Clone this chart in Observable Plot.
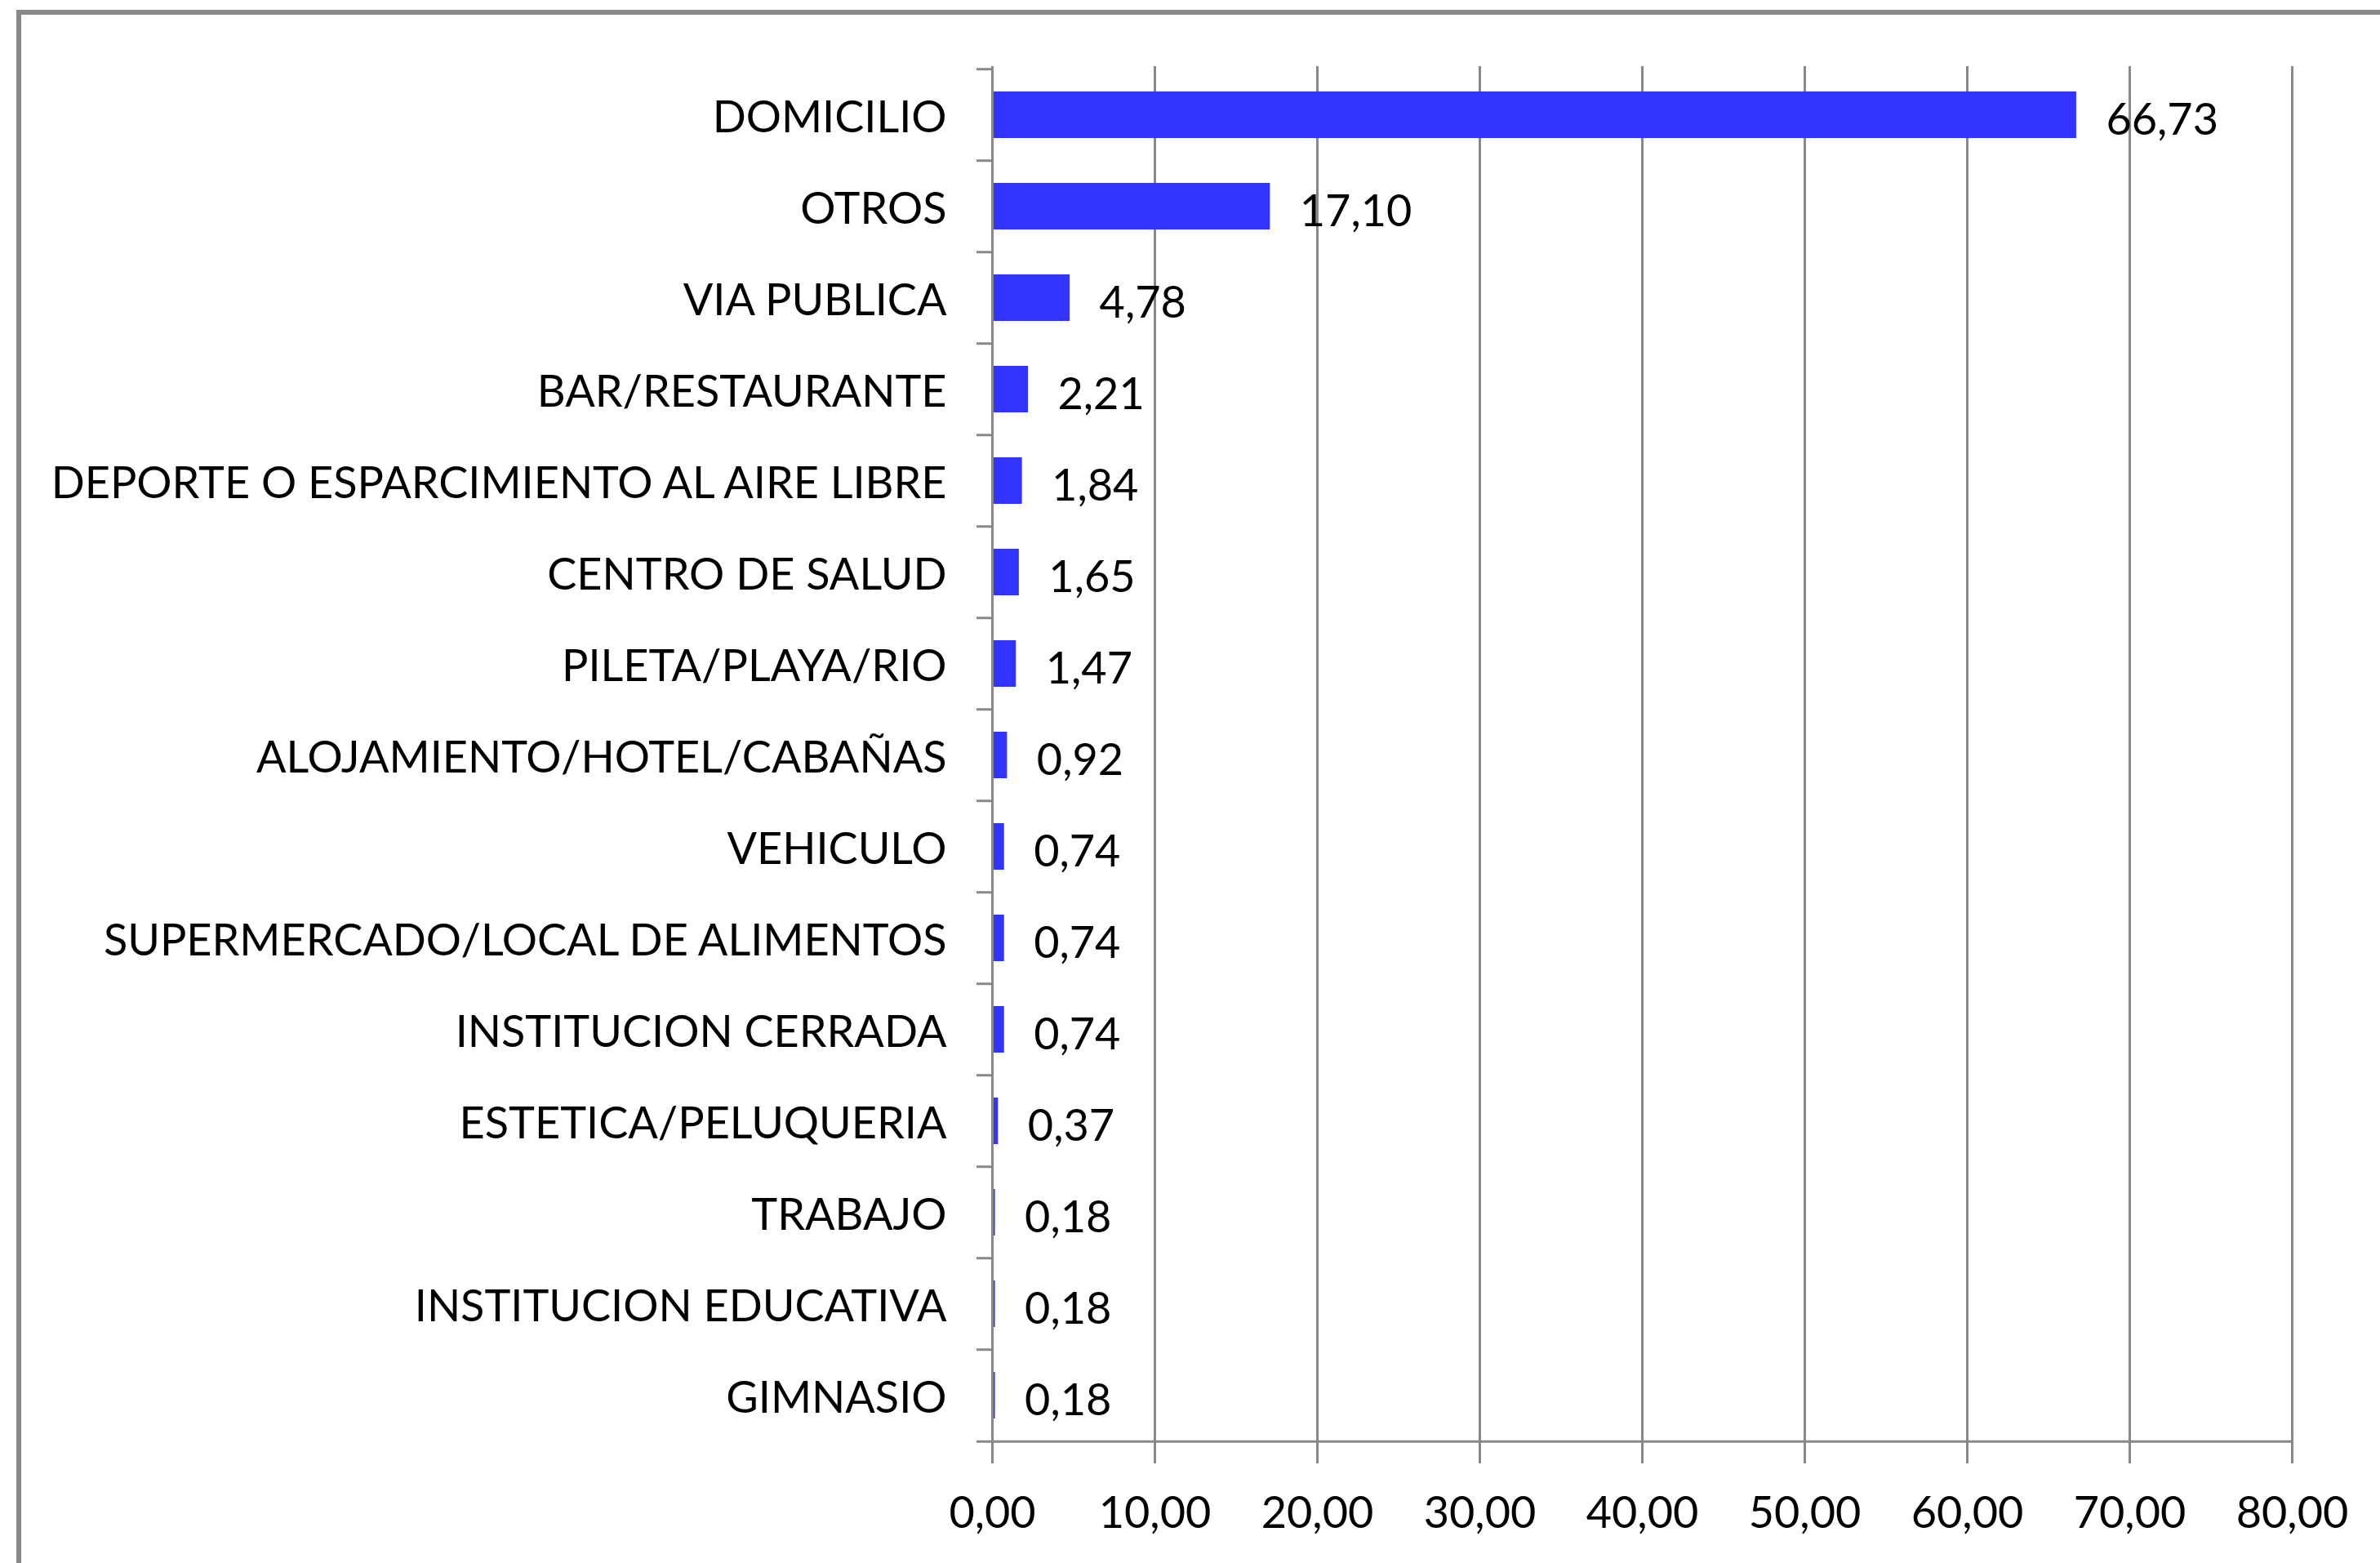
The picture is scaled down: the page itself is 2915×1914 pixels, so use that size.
<!DOCTYPE html>
<html>
<head>
<meta charset="utf-8">
<script src="https://cdn.jsdelivr.net/npm/d3@7"></script>
<script src="https://cdn.jsdelivr.net/npm/@observablehq/plot@0.6"></script>
<style>
html, body { margin: 0; padding: 0; background: #fff; overflow: hidden; }
#wrap { position: relative; width: 2915px; height: 1914px; overflow: hidden; }
#border { position: absolute; left: 20px; top: 12px; width: 2960px; height: 1960px;
  border-top: 6px solid #888; border-left: 6px solid #888; }
#chart { position: absolute; left: 0; top: 0; }
</style>
</head>
<body>
<div id="wrap"><div id="border"></div><div id="chart"></div></div>
<script>
const categories = [
  "DOMICILIO",
  "OTROS",
  "VIA PUBLICA",
  "BAR/RESTAURANTE",
  "DEPORTE O ESPARCIMIENTO AL AIRE LIBRE",
  "CENTRO DE SALUD",
  "PILETA/PLAYA/RIO",
  "ALOJAMIENTO/HOTEL/CABAÑAS",
  "VEHICULO",
  "SUPERMERCADO/LOCAL DE ALIMENTOS",
  "INSTITUCION CERRADA",
  "ESTETICA/PELUQUERIA",
  "TRABAJO",
  "INSTITUCION EDUCATIVA",
  "GIMNASIO"
];
const values = [66.73, 17.10, 4.78, 2.21, 1.84, 1.65, 1.47, 0.92, 0.74, 0.74, 0.74, 0.37, 0.18, 0.18, 0.18];
const xTicks = [0, 10, 20, 30, 40, 50, 60, 70, 80];

const data = categories.map((c, i) => ({category: c, value: values[i]}));
const fmt = d => d3.format(".2f")(d).replace(".", ",");

const W = 2915, H = 1914;
const mTop = 81, mBottom = 145, mLeft = 1215, mRight = 108;
const step = (H - mTop - mBottom) / categories.length;
const grey = "#888";

const chart = Plot.plot({
  width: W,
  height: H,
  marginTop: mTop,
  marginBottom: mBottom,
  marginLeft: mLeft,
  marginRight: mRight,
  style: {fontFamily: "Lato", fontSize: "54px", color: "#000", background: "transparent", overflow: "visible"},
  x: {domain: [xTicks[0], xTicks[xTicks.length - 1]], axis: null, label: null},
  y: {domain: categories, paddingInner: 0.49, paddingOuter: 0.245, axis: null, label: null},
  marks: [
    Plot.gridX(xTicks, {stroke: grey, strokeOpacity: 1, strokeWidth: 3}),
    Plot.barX(data, {x1: 0, x2: "value", y: "category", fill: "#3333FF"}),
    Plot.ruleX([xTicks[0]], {stroke: grey, strokeWidth: 3}),
    Plot.ruleY([categories[categories.length - 1]], {
      x1: xTicks[0], x2: xTicks[xTicks.length - 1], dy: step / 2, stroke: grey, strokeWidth: 3
    }),
    Plot.axisY({ticks: categories, tickSize: 19, tickFormat: () => "", label: null, stroke: grey, strokeWidth: 3, dy: -step / 2}),
    Plot.axisY({ticks: [categories[categories.length - 1]], tickSize: 19, tickFormat: () => "", label: null, stroke: grey, strokeWidth: 3, dy: step / 2}),
    Plot.axisY({ticks: categories, tickSize: 0, tickPadding: 56, label: null, fill: "#000", stroke: "none", dy: 4}),
    Plot.axisX({ticks: xTicks, tickSize: 23, tickPadding: 40, tickFormat: fmt, label: null, stroke: grey, strokeWidth: 3, fill: "#000"}),
    Plot.text(data, {x: "value", y: "category", text: d => fmt(d.value), dx: 36, dy: 7, textAnchor: "start", fill: "#000"})
  ]
});
document.getElementById("chart").appendChild(chart);
</script>
</body>
</html>
